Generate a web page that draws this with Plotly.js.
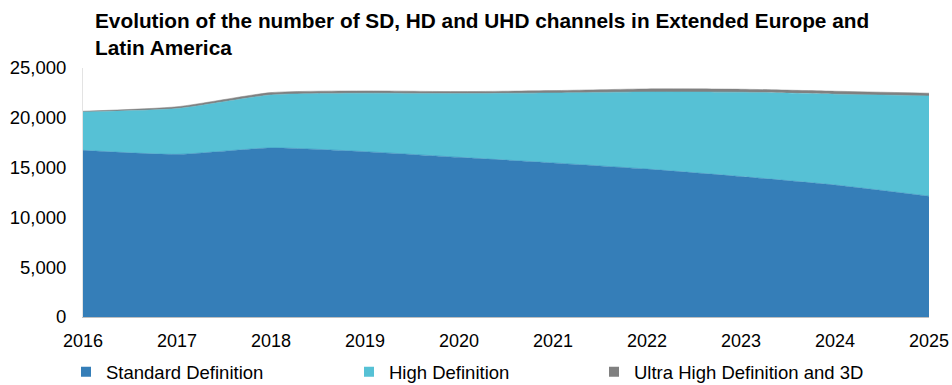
<!DOCTYPE html>
<html>
<head>
<meta charset="utf-8">
<script src="https://cdn.plot.ly/plotly-3.0.1.min.js"></script>
<style>
  html, body { margin: 0; padding: 0; background: #fff; }
  #chart { width: 952px; height: 385px; }
</style>
</head>
<body>
<div id="chart"></div>
<script>
// Channel counts per year (stacked areas)
const years = [2016, 2017, 2018, 2019, 2020, 2021, 2022, 2023, 2024, 2025];
const standardDef = [16730, 16330, 16970, 16600, 16030, 15470, 14850, 14100, 13250, 12130];
const highDef     = [3870, 4600, 5330, 5870, 6400, 7030, 7750, 8470, 9120, 10070];
const ultraHighDef = [60, 180, 230, 230, 200, 230, 300, 300, 300, 270];

const seriesNames = ['Standard Definition', 'High Definition', 'Ultra High Definition and 3D'];
const seriesColors = ['#357eb8', '#56c1d5', '#808080'];
const seriesValues = [standardDef, highDef, ultraHighDef];
const yTicks = [0, 5000, 10000, 15000, 20000, 25000];

const FONT = 'Liberation Sans, Arial, sans-serif';

const traces = seriesValues.map((vals, i) => ({
  x: years,
  y: vals,
  name: seriesNames[i],
  type: 'scatter',
  mode: 'lines',
  stackgroup: 'channels',
  fillcolor: seriesColors[i],
  line: { color: seriesColors[i], width: 0.5, shape: 'spline', smoothing: 0.6 },
  showlegend: false,
  hoverinfo: 'x+y+name'
}));

// Legend entries with square swatches, one legend per entry
const legendIds = ['legend', 'legend2', 'legend3'];
seriesNames.forEach((name, i) => {
  traces.push({
    x: [null], y: [null],
    name: name,
    type: 'scatter',
    mode: 'markers',
    marker: { symbol: 'square', size: 10, color: seriesColors[i] },
    legend: legendIds[i],
    showlegend: true
  });
});

const legendBase = {
  orientation: 'h',
  y: -0.222,
  yanchor: 'middle',
  xanchor: 'left',
  bgcolor: 'rgba(0,0,0,0)',
  borderwidth: 0,
  font: { family: FONT, size: 18.5, color: '#000' },
  itemwidth: 30
};

const layout = {
  width: 952,
  height: 385,
  paper_bgcolor: '#fff',
  plot_bgcolor: '#fff',
  margin: { l: 83, r: 23, t: 68, b: 68, autoexpand: false },
  font: { family: FONT, color: '#000' },
  title: {
    text: '<b>Evolution of the number of SD, HD and UHD channels in Extended Europe and<br>Latin America</b>',
    font: { family: FONT, size: 20.8, color: '#000' },
    xref: 'container', x: 95 / 952, xanchor: 'left',
    yref: 'container', y: 1 - 28 / 385, yanchor: 'top',
    automargin: false
  },
  xaxis: {
    range: [2016, 2025],
    tickvals: years,
    ticktext: years.map(String),
    ticks: 'outside', ticklen: 7, tickcolor: 'rgba(0,0,0,0)',
    tickfont: { family: FONT, size: 18, color: '#000' },
    showgrid: false,
    zeroline: false,
    showline: true, linecolor: '#bfbfbf', linewidth: 1,
    automargin: false
  },
  yaxis: {
    range: [0, 25000],
    tickvals: yTicks,
    tickformat: ',d',
    ticks: 'outside', ticklen: 12, tickcolor: 'rgba(0,0,0,0)',
    tickfont: { family: FONT, size: 18.5, color: '#000' },
    showgrid: true, gridcolor: '#efefef', gridwidth: 1,
    zeroline: false,
    showline: true, linecolor: '#e3e3e3', linewidth: 1,
    automargin: false
  },
  legend:  Object.assign({}, legendBase, { x: (66 - 83) / 846 }),
  legend2: Object.assign({}, legendBase, { x: (349 - 83) / 846 }),
  legend3: Object.assign({}, legendBase, { x: (594 - 83) / 846 }),
  showlegend: true
};

Plotly.newPlot('chart', traces, layout, { displayModeBar: false, staticPlot: true });
</script>
</body>
</html>
